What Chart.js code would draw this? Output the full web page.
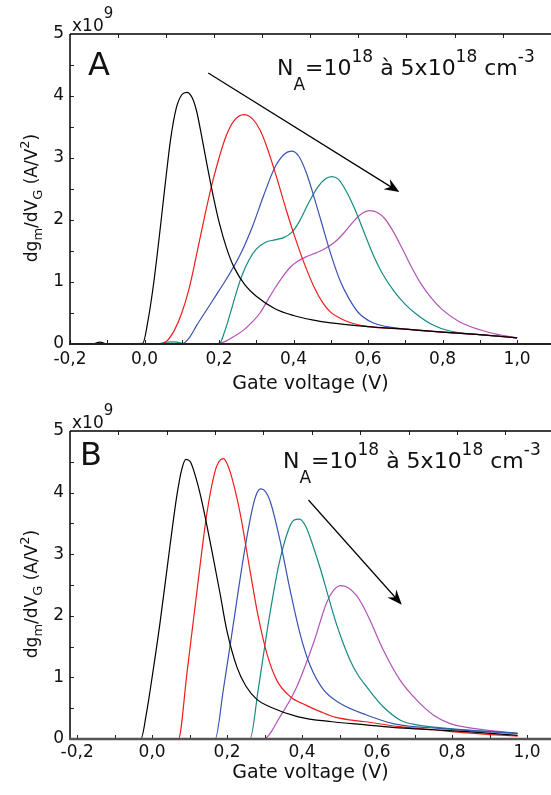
<!DOCTYPE html>
<html><head><meta charset="utf-8">
<script src="https://cdn.jsdelivr.net/npm/chart.js@4.4.0/dist/chart.umd.min.js"></script>
<style>
html,body{margin:0;padding:0;background:#fff;overflow:hidden;}
#wrap{position:relative;width:551px;height:795px;background:#fff;}
canvas{position:absolute;left:0;display:block;}
</style></head><body>
<div id="wrap">
<canvas id="cA" width="551" height="397" style="top:0px"></canvas>
<canvas id="cB" width="551" height="398" style="top:397px"></canvas>
</div>
<script>
// ---------- data ----------
const xTickValues = [-0.2, 0, 0.2, 0.4, 0.6, 0.8, 1.0];
const yTickValues = [0, 1, 2, 3, 4, 5];
const seriesLabels = ['1e18', '2e18', '3e18', '4e18', '5e18'];

// Panel A (dgm/dVG, x1e9 A/V^2) vs gate voltage (V)
const aBlackX = [-0.2, -0.14, -0.12, -0.10, -0.06, -0.005, 0.01, 0.025, 0.04, 0.055, 0.07, 0.085, 0.1, 0.114, 0.128, 0.14, 0.155, 0.17, 0.185, 0.2, 0.22, 0.24, 0.27, 0.3, 0.35, 0.4, 0.45, 0.5, 0.6, 0.7, 0.8, 0.9, 1.0];
const aBlackY = [0, 0, 0.03, 0, 0.005, 0.01, 0.4, 1.0, 1.75, 2.55, 3.3, 3.8, 4.02, 4.06, 3.97, 3.75, 3.3, 2.82, 2.37, 1.97, 1.55, 1.24, 0.95, 0.77, 0.57, 0.46, 0.39, 0.34, 0.28, 0.24, 0.19, 0.15, 0.10];
const aRedX = [-0.2, 0.04, 0.06, 0.08, 0.1, 0.12, 0.14, 0.16, 0.18, 0.2, 0.22, 0.24, 0.267, 0.29, 0.31, 0.33, 0.355, 0.38, 0.405, 0.43, 0.455, 0.48, 0.5, 0.53, 0.56, 0.6, 0.7, 0.8, 0.9, 1.0];
const aRedY = [0, 0, 0.05, 0.22, 0.5, 0.9, 1.45, 2.02, 2.55, 3.0, 3.37, 3.6, 3.70, 3.63, 3.45, 3.15, 2.68, 2.17, 1.70, 1.28, 0.92, 0.65, 0.51, 0.40, 0.33, 0.28, 0.24, 0.19, 0.15, 0.10];
const aBlueX = [-0.2, 0.1, 0.12, 0.14, 0.17, 0.2, 0.23, 0.26, 0.29, 0.32, 0.35, 0.375, 0.395, 0.415, 0.435, 0.455, 0.475, 0.5, 0.525, 0.55, 0.575, 0.61, 0.65, 0.7, 0.8, 0.9, 1.0];
const aBlueY = [0, 0, 0.1, 0.3, 0.58, 0.86, 1.15, 1.48, 1.9, 2.4, 2.85, 3.06, 3.11, 3.02, 2.75, 2.37, 1.96, 1.45, 1.02, 0.72, 0.50, 0.35, 0.28, 0.24, 0.19, 0.15, 0.10];
const aTealX = [-0.2, 0.03, 0.06, 0.08, 0.11, 0.2, 0.215, 0.23, 0.245, 0.26, 0.28, 0.3, 0.325, 0.35, 0.375, 0.395, 0.415, 0.44, 0.465, 0.485, 0.502, 0.52, 0.54, 0.565, 0.59, 0.615, 0.64, 0.67, 0.7, 0.73, 0.77, 0.82, 0.9, 1.0];
const aTealY = [0, 0, 0.03, 0.035, 0, 0, 0.2, 0.49, 0.8, 1.08, 1.35, 1.53, 1.64, 1.68, 1.72, 1.8, 1.97, 2.27, 2.53, 2.66, 2.70, 2.66, 2.48, 2.17, 1.79, 1.42, 1.12, 0.85, 0.64, 0.48, 0.32, 0.21, 0.15, 0.10];
const aMagX = [-0.2, 0.18, 0.2, 0.22, 0.24, 0.265, 0.29, 0.31, 0.33, 0.35, 0.37, 0.39, 0.41, 0.435, 0.46, 0.485, 0.51, 0.535, 0.56, 0.58, 0.604, 0.625, 0.645, 0.665, 0.69, 0.715, 0.74, 0.77, 0.8, 0.845, 0.9, 0.95, 1.0];
const aMagY = [0, 0, 0.01, 0.05, 0.12, 0.22, 0.36, 0.5, 0.7, 0.9, 1.08, 1.23, 1.33, 1.41, 1.47, 1.54, 1.64, 1.79, 1.97, 2.09, 2.15, 2.12, 2.02, 1.84, 1.56, 1.26, 0.99, 0.74, 0.55, 0.36, 0.23, 0.15, 0.10];

// Panel B
const bBlackX = [-0.22, -0.03, -0.015, -0.005, 0.021, 0.048, 0.066, 0.078, 0.09, 0.102, 0.115, 0.13, 0.145, 0.159, 0.181, 0.199, 0.226, 0.25, 0.28, 0.315, 0.39, 0.48, 0.57, 0.66, 0.75, 0.84, 0.975];
const bBlackY = [0, 0, 0.42, 0.8, 1.88, 3.15, 3.95, 4.35, 4.54, 4.50, 4.28, 3.93, 3.5, 3.07, 2.37, 1.77, 1.17, 0.86, 0.64, 0.52, 0.36, 0.28, 0.23, 0.18, 0.15, 0.12, 0.06];
const bRedX = [-0.22, 0.07, 0.093, 0.12, 0.146, 0.168, 0.178, 0.19, 0.2, 0.212, 0.235, 0.261, 0.283, 0.306, 0.332, 0.368, 0.41, 0.45, 0.49, 0.57, 0.66, 0.75, 0.84, 0.975];
const bRedY = [0, 0, 1.07, 2.42, 3.66, 4.35, 4.5, 4.55, 4.47, 4.26, 3.66, 2.74, 1.99, 1.39, 0.96, 0.69, 0.55, 0.44, 0.35, 0.28, 0.20, 0.15, 0.10, 0.045];
const bBlueX = [-0.22, 0.168, 0.19, 0.217, 0.244, 0.266, 0.278, 0.29, 0.302, 0.315, 0.341, 0.368, 0.395, 0.421, 0.457, 0.501, 0.572, 0.643, 0.7, 0.75, 0.84, 0.975];
const bBlueY = [0, 0, 0.8, 1.88, 2.96, 3.7, 3.97, 4.06, 4.02, 3.86, 3.23, 2.42, 1.70, 1.20, 0.80, 0.58, 0.39, 0.25, 0.20, 0.18, 0.14, 0.09];
const bTealX = [-0.22, 0.261, 0.283, 0.31, 0.337, 0.364, 0.378, 0.393, 0.41, 0.43, 0.45, 0.466, 0.48, 0.492, 0.51, 0.528, 0.55, 0.572, 0.595, 0.617, 0.661, 0.706, 0.795, 0.975];
const bTealY = [0, 0, 0.8, 1.88, 2.80, 3.40, 3.55, 3.57, 3.45, 3.12, 2.74, 2.40, 2.10, 1.86, 1.55, 1.28, 1.03, 0.85, 0.67, 0.52, 0.31, 0.23, 0.17, 0.09];
const bMagX = [-0.22, 0.297, 0.341, 0.386, 0.43, 0.466, 0.485, 0.503, 0.522, 0.545, 0.565, 0.581, 0.617, 0.661, 0.706, 0.75, 0.795, 0.839, 0.975];
const bMagY = [0, 0, 0.36, 0.85, 1.55, 2.22, 2.42, 2.49, 2.46, 2.33, 2.13, 1.93, 1.44, 0.96, 0.63, 0.39, 0.25, 0.19, 0.09];

// arrow annotations (data units: V, x1e9)
const aArrow = [[0.171, 4.37], [0.684, 2.45]];
const bArrow = [[0.417, 3.88], [0.666, 2.18]];

// ---------- styles ----------
const lineColors = ['#000000', '#f01c1c', '#3a52b2', '#158a82', '#b254b8'];
const FONT = '"DejaVu Sans", Verdana, sans-serif';
Chart.defaults.font.family = FONT;

function fmtX(v) { return (Math.round(v * 10) / 10).toFixed(1).replace('.', ','); }

function rich(ctx, x, y, parts, center) {
  let w = 0;
  parts.forEach(p => { ctx.font = p[1] + 'px ' + FONT; w += ctx.measureText(p[0]).width; });
  let cx = center ? x - w / 2 : x;
  ctx.textAlign = 'left'; ctx.textBaseline = 'alphabetic';
  parts.forEach(p => { ctx.font = p[1] + 'px ' + FONT; ctx.fillText(p[0], cx, y + p[2]); cx += ctx.measureText(p[0]).width; });
}

function makeDecor(p) {
  return {
    id: 'decor' + p.letter,
    afterDraw(chart) {
      const ctx = chart.ctx, ca = chart.chartArea, xs = chart.scales.x, ys = chart.scales.y;
      ctx.save();
      const seg = (x1, y1, x2, y2) => { ctx.beginPath(); ctx.moveTo(x1, y1); ctx.lineTo(x2, y2); ctx.stroke(); };
      // ticks
      ctx.strokeStyle = '#222'; ctx.lineWidth = 1;
      for (let k = 0; ; k++) {
        const v = -0.2 + k * 0.1; if (v > xs.max) break;
        const px = Math.round(xs.getPixelForValue(v)) + 0.5;
        seg(px, ca.bottom, px, ca.bottom - 4);
      }
      for (let k = 1; ; k++) {
        const v = xs.min + k * 0.129; if (v > xs.max) break;
        const px = Math.round(xs.getPixelForValue(v)) + 0.5;
        seg(px, ca.top, px, ca.top + 4);
      }
      for (let k = 1; k < 10; k++) {
        const py = Math.round(ys.getPixelForValue(k * 0.5)) + 0.5;
        seg(ca.left, py, ca.left + 4, py);
      }
      // axes frame
      ctx.strokeStyle = '#000'; ctx.lineWidth = 1.5;
      seg(ca.left, ca.top, ca.left, ca.bottom);
      seg(ca.left, ca.top, ca.right, ca.top);
      ctx.strokeStyle = p.bottomColor; ctx.lineWidth = p.bottomWidth;
      seg(ca.left - 1, ca.bottom, ca.right, ca.bottom);
      // texts
      ctx.fillStyle = '#111';
      rich(ctx, ca.left + 2, ca.top - 3, [['x10', 17, 0], ['9', 15, -13]], false);
      ctx.font = '32px ' + FONT; ctx.textAlign = 'left'; ctx.textBaseline = 'alphabetic';
      ctx.fillText(p.letter, p.letterX, p.letterY);
      rich(ctx, p.naX, p.naY, [['N', 22, 0], ['A', 17, 15], ['=10', 22, 0], ['18', 17, -13], [' à 5x10', 22, 0], ['18', 17, -13], [' cm', 22, 0], ['-3', 17, -13]], false);
      // y title
      ctx.save();
      ctx.translate(37, (ca.top + ca.bottom) / 2 + 9);
      ctx.rotate(-Math.PI / 2);
      rich(ctx, 0, 0, [['dg', 17, 0], ['m', 13, 5], ['/dV', 17, 0], ['G', 13, 5], [' (A/V', 17, 0], ['2', 13, -8], [')', 17, 0]], true);
      ctx.restore();
      // arrow
      const x1 = xs.getPixelForValue(p.arrow[0][0]), y1 = ys.getPixelForValue(p.arrow[0][1]);
      const x2 = xs.getPixelForValue(p.arrow[1][0]), y2 = ys.getPixelForValue(p.arrow[1][1]);
      const ang = Math.atan2(y2 - y1, x2 - x1);
      ctx.strokeStyle = '#000'; ctx.lineWidth = 1.2;
      seg(x1, y1, x2 - 8 * Math.cos(ang), y2 - 8 * Math.sin(ang));
      ctx.fillStyle = '#000';
      ctx.save(); ctx.translate(x2, y2); ctx.rotate(ang);
      ctx.beginPath(); ctx.moveTo(0, 0); ctx.lineTo(-15, -6); ctx.lineTo(-10, 0); ctx.lineTo(-15, 6); ctx.closePath(); ctx.fill();
      ctx.restore();
      ctx.restore();
    }
  };
}

function buildChart(p) {
  const datasets = p.series.map((s, i) => ({
    label: seriesLabels[i],
    data: s[0].map((x, j) => ({ x: x, y: s[1][j] })),
    borderColor: lineColors[i],
    borderWidth: 1.2,
    pointRadius: 0,
    fill: false,
    cubicInterpolationMode: 'monotone'
  }));
  const titleSize = 19;
  return new Chart(document.getElementById(p.id), {
    type: 'line',
    data: { datasets: datasets },
    options: {
      responsive: false, animation: false, devicePixelRatio: 1,
      layout: { padding: { top: p.top, left: 0, right: 0, bottom: 0 } },
      plugins: { legend: { display: false }, tooltip: { enabled: false } },
      scales: {
        x: {
          type: 'linear', min: p.xMin, max: p.xMax,
          afterBuildTicks: sc => { sc.ticks = xTickValues.map(v => ({ value: v })); },
          afterFit: sc => { sc.height = p.xAxisH; },
          grid: { display: false, drawTicks: false }, border: { display: false },
          ticks: { callback: v => fmtX(v), font: { size: 17 }, color: '#111', padding: p.xPad, maxRotation: 0, autoSkip: false },
          title: { display: true, text: 'Gate voltage (V)', font: { size: titleSize }, color: '#111',
                   padding: { top: 0, bottom: p.xAxisH + p.top + p.plotH - p.titleY - titleSize * 0.6 } }
        },
        y: {
          min: 0, max: 5,
          afterBuildTicks: sc => { sc.ticks = yTickValues.map(v => ({ value: v })); },
          afterFit: sc => { sc.width = 70; },
          grid: { display: false, drawTicks: false }, border: { display: false },
          ticks: { callback: v => String(v), font: { size: 17 }, color: '#111', padding: 6 }
        }
      }
    },
    plugins: [makeDecor(p)]
  });
}

buildChart({
  id: 'cA', letter: 'A', top: 34, plotH: 310, xAxisH: 53, xPad: 5, titleY: 384,
  xMin: -0.2, xMax: 1.091,
  series: [[aBlackX, aBlackY], [aRedX, aRedY], [aBlueX, aBlueY], [aTealX, aTealY], [aMagX, aMagY]],
  arrow: aArrow, letterX: 88, letterY: 75, naX: 277, naY: 75,
  bottomColor: '#222', bottomWidth: 2
});
buildChart({
  id: 'cB', letter: 'B', top: 34, plotH: 308, xAxisH: 56, xPad: 3, titleY: 376,
  xMin: -0.219, xMax: 1.064,
  series: [[bBlackX, bBlackY], [bRedX, bRedY], [bBlueX, bBlueY], [bTealX, bTealY], [bMagX, bMagY]],
  arrow: bArrow, letterX: 80, letterY: 68, naX: 283, naY: 71,
  bottomColor: '#555', bottomWidth: 2.5
});
</script>
</body></html>
